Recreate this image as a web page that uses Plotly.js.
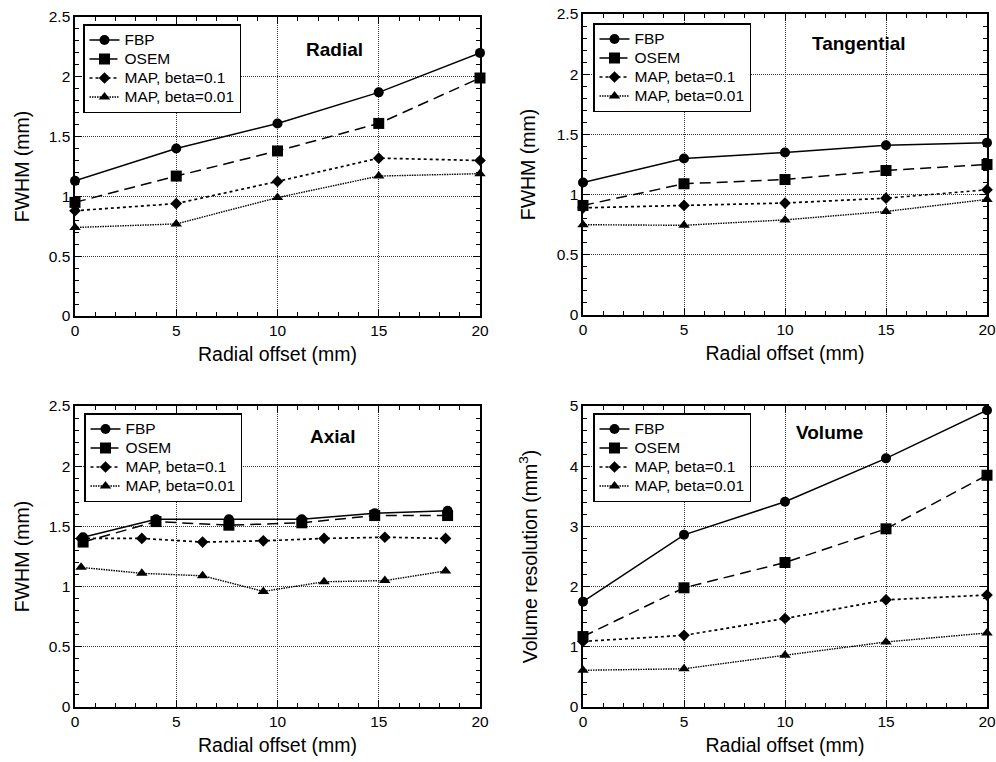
<!DOCTYPE html>
<html><head><meta charset="utf-8">
<script src="https://cdn.plot.ly/plotly-3.0.1.min.js"></script>
<style>html,body{margin:0;padding:0;background:#fff}#c{width:996px;height:762px}</style>
</head><body><div id="c"></div>
<script>
const seriesNames = ["FBP", "OSEM", "MAP, beta=0.1", "MAP, beta=0.01"];
const offsets = [0, 5, 10, 15, 20];

const radialFBP = [1.13, 1.40, 1.61, 1.87, 2.20];
const radialOSEM = [0.95, 1.17, 1.38, 1.61, 1.99];
const radialMAP01 = [0.88, 0.94, 1.125, 1.32, 1.30];
const radialMAP001 = [0.74, 0.77, 0.99, 1.17, 1.19];

const tangFBP = [1.10, 1.30, 1.35, 1.41, 1.43];
const tangOSEM = [0.91, 1.09, 1.125, 1.20, 1.25];
const tangMAP01 = [0.89, 0.91, 0.93, 0.97, 1.04];
const tangMAP001 = [0.75, 0.745, 0.79, 0.86, 0.96];

const axialOffsetsA = [0.4, 4.0, 7.6, 11.2, 14.8, 18.4];
const axialOffsetsB = [0.3, 3.3, 6.3, 9.3, 12.3, 15.3, 18.3];
const axialFBP = [1.41, 1.56, 1.56, 1.56, 1.61, 1.63];
const axialOSEM = [1.37, 1.54, 1.51, 1.53, 1.59, 1.59];
const axialMAP01 = [1.40, 1.40, 1.37, 1.38, 1.40, 1.41, 1.40];
const axialMAP001 = [1.16, 1.11, 1.09, 0.96, 1.04, 1.05, 1.13];

const volFBP = [1.75, 2.86, 3.41, 4.13, 4.93];
const volOSEM = [1.17, 1.98, 2.40, 2.96, 3.85];
const volMAP01 = [1.09, 1.19, 1.47, 1.78, 1.86];
const volMAP001 = [0.61, 0.635, 0.86, 1.08, 1.23];

const panelTitles = ["Radial", "Tangential", "Axial", "Volume"];
const xTitle = "Radial offset (mm)";
const yTitles = ["FWHM (mm)", "FWHM (mm)", "FWHM (mm)", "Volume resolution (mm<sup>3</sup>)"];

const styles = [
  {line:{color:'black', width:1.5, dash:'solid'}, marker:{symbol:'circle', size:10, color:'black'}},
  {line:{color:'black', width:1.5, dash:'11px,6px'}, marker:{symbol:'square', size:11, color:'black'}},
  {line:{color:'black', width:1.7, dash:'3px,3px'}, marker:{symbol:'diamond', size:9, color:'black'}},
  {line:{color:'black', width:1.4, dash:'1.5px,1px'}, marker:{symbol:'triangle-up', size:10, color:'black'}}
];

const panels = [
  {xs:[offsets,offsets,offsets,offsets], ys:[radialFBP,radialOSEM,radialMAP01,radialMAP001]},
  {xs:[offsets,offsets,offsets,offsets], ys:[tangFBP,tangOSEM,tangMAP01,tangMAP001]},
  {xs:[axialOffsetsA,axialOffsetsA,axialOffsetsB,axialOffsetsB], ys:[axialFBP,axialOSEM,axialMAP01,axialMAP001]},
  {xs:[offsets,offsets,offsets,offsets], ys:[volFBP,volOSEM,volMAP01,volMAP001]}
];

const W = 996, H = 762;
const boxes = [
  {l:75, r:480, t:17, b:316},
  {l:583, r:987, t:14, b:315},
  {l:75, r:480, t:406, b:707},
  {l:583, r:987, t:406, b:707}
];
const yStandoff = [14, 16, 14, 27];
const legendPos = [{x:83,y:24},{x:593,y:23},{x:84,y:413},{x:593,y:413}];
const titlePos = [{x:334,y:50},{x:859,y:44},{x:332,y:436},{x:829,y:432}];

const data = [];
panels.forEach((p, i) => {
  const ax = i === 0 ? '' : String(i+1);
  for (let s = 0; s < 4; s++) {
    data.push({
      type:'scatter', mode:'lines+markers',
      x:p.xs[s], y:p.ys[s],
      name:'<span style="font-size:15.5px">' + seriesNames[s] + '</span>',
      xaxis:'x'+ax, yaxis:'y'+ax,
      legend: i === 0 ? 'legend' : 'legend'+(i+1),
      line:styles[s].line, marker:styles[s].marker,
      cliponaxis:false
    });
  }
});

const font = {family:'Liberation Sans, Arial, sans-serif', size:15.5, color:'black'};
const layout = {
  width:W, height:H, margin:{l:0,r:0,t:0,b:0},
  paper_bgcolor:'white', plot_bgcolor:'white',
  font:font, showlegend:true, annotations:[]
};

boxes.forEach((b, i) => {
  const ax = i === 0 ? '' : String(i+1);
  const isVol = i === 3;
  layout['xaxis'+ax] = {
    domain:[b.l/W, b.r/W], anchor:'y'+ax, range:[0,20],
    dtick:5, tick0:0, ticks:'inside', ticklen:7, tickwidth:1, tickcolor:'black',
    minor:{dtick:1, ticks:'inside', ticklen:4, tickcolor:'black', showgrid:false},
    showline:true, linecolor:'black', linewidth:1.6, mirror:'allticks',
    showgrid:true, gridcolor:'#333', griddash:'1px,1px', gridwidth:1, zeroline:false,
    tickfont:{size:15.5}, ticklabeloverflow:'allow', automargin:false, fixedrange:true,
    title:{text:xTitle, font:{size:19.5}, standoff:9}
  };
  layout['yaxis'+ax] = {
    domain:[1-b.b/H, 1-b.t/H], anchor:'x'+ax,
    range: isVol ? [0,5] : [0,2.5], dtick: isVol ? 1 : 0.5, tick0:0,
    ticks:'inside', ticklen:7, tickwidth:1, tickcolor:'black',
    minor:{dtick: isVol ? 0.2 : 0.1, ticks:'inside', ticklen:4, tickcolor:'black', showgrid:false},
    showline:true, linecolor:'black', linewidth:1.6, mirror:'allticks',
    showgrid:true, gridcolor:'#333', griddash:'1px,1px', gridwidth:1, zeroline:false,
    tickfont:{size:15.5}, ticklabeloverflow:'allow', automargin:false, fixedrange:true,
    title:{text:yTitles[i], font:{size:19.5}, standoff:yStandoff[i]}
  };
  const lp = legendPos[i];
  layout[i === 0 ? 'legend' : 'legend'+(i+1)] = {
    x:lp.x/W, y:1-lp.y/H, xanchor:'left', yanchor:'top',
    bgcolor:'white', bordercolor:'black', borderwidth:1.5,
    font:{size:12}, tracegroupgap:0, itemwidth:30, traceorder:'normal'
  };
  const tp = titlePos[i];
  layout.annotations.push({
    text:'<b>'+panelTitles[i]+'</b>', xref:'paper', yref:'paper',
    x:tp.x/W, y:1-tp.y/H, xanchor:'center', yanchor:'middle',
    showarrow:false, font:{size:19}
  });
});

Plotly.newPlot('c', data, layout, {staticPlot:true});
</script></body></html>
